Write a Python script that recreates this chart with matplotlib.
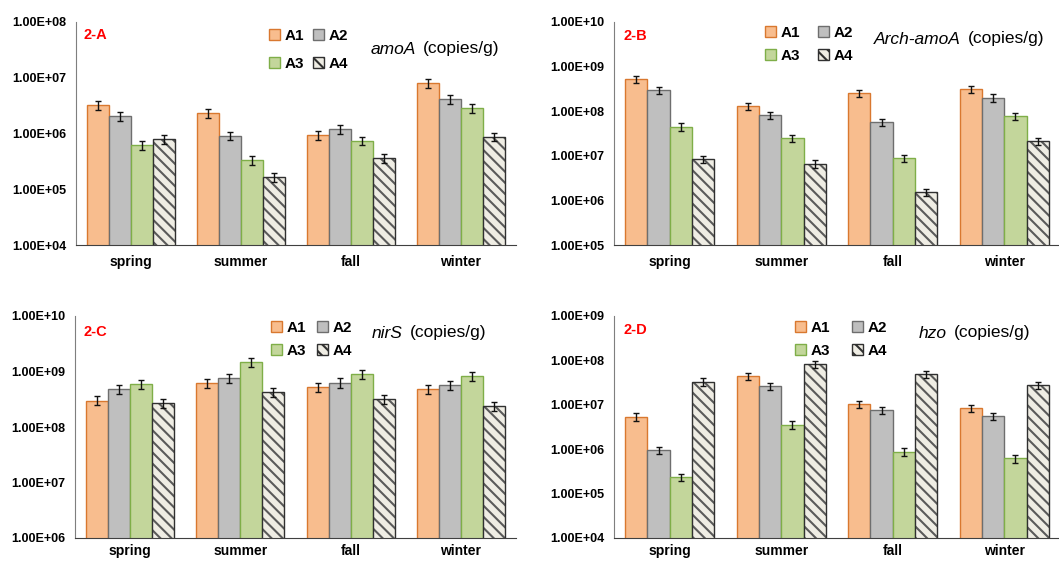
import numpy as np
import matplotlib

matplotlib.use("Agg")
import matplotlib.pyplot as plt
from matplotlib.patches import Patch
from matplotlib.ticker import FuncFormatter, LogLocator

plt.rcParams["font.family"] = ["Liberation Sans", "DejaVu Sans"]
plt.rcParams["hatch.linewidth"] = 1.5

seasons = ["spring", "summer", "fall", "winter"]
sites = ["A1", "A2", "A3", "A4"]

# 2-A amoA
amoA = [
    [3.2e6, 2.3e6, 9.5e5, 8.0e6],
    [2.07e6, 9.1e5, 1.2e6, 4.2e6],
    [6.1e5, 3.37e5, 7.4e5, 2.85e6],
    [7.9e5, 1.67e5, 3.6e5, 8.7e5],
]
amoA_err = [
    [5.5e5, 4.0e5, 1.7e5, 1.4e6],
    [3.6e5, 1.6e5, 2.1e5, 7.5e5],
    [1.1e5, 6.0e4, 1.3e5, 5.0e5],
    [1.4e5, 3.0e4, 6.5e4, 1.5e5],
]
# 2-B Arch-amoA
arch = [
    [5.3e8, 1.28e8, 2.55e8, 3.08e8],
    [2.97e8, 8.2e7, 5.7e7, 2.0e8],
    [4.5e7, 2.48e7, 8.8e6, 7.7e7],
    [8.4e6, 6.7e6, 1.52e6, 2.13e7],
]
arch_err = [
    [1.0e8, 2.4e7, 4.8e7, 5.8e7],
    [5.6e7, 1.6e7, 1.1e7, 3.8e7],
    [8.5e6, 4.7e6, 1.7e6, 1.5e7],
    [1.6e6, 1.3e6, 2.9e5, 4.0e6],
]
# 2-C nirS
nirS = [
    [3.0e8, 6.1e8, 5.3e8, 4.8e8],
    [4.8e8, 7.7e8, 6.3e8, 5.75e8],
    [6.0e8, 1.49e9, 9.1e8, 8.2e8],
    [2.74e8, 4.3e8, 3.18e8, 2.38e8],
]
nirS_err = [
    [5.5e7, 1.1e8, 1.0e8, 9.0e7],
    [9.0e7, 1.4e8, 1.2e8, 1.1e8],
    [1.1e8, 2.8e8, 1.7e8, 1.5e8],
    [5.0e7, 8.0e7, 6.0e7, 4.5e7],
]
# 2-D hzo
hzo = [
    [5.4e6, 4.4e7, 1.02e7, 8.4e6],
    [9.6e5, 2.6e7, 7.5e6, 5.6e6],
    [2.34e5, 3.6e6, 8.8e5, 6.2e5],
    [3.3e7, 8.2e7, 4.9e7, 2.8e7],
]
hzo_err = [
    [1.0e6, 8.3e6, 1.9e6, 1.6e6],
    [1.8e5, 4.9e6, 1.4e6, 1.1e6],
    [4.4e4, 6.8e5, 1.7e5, 1.2e5],
    [6.2e6, 1.5e7, 9.3e6, 5.3e6],
]

fills = ["#F8BD8E", "#BFBFBF", "#C3D69B", "#EFEDE4"]
edges = ["#D9782F", "#6E6E6E", "#7FAE48", "#303030"]
hatches = [None, None, None, "\\\\\\"]
hatch_grey = "#5A5A5A"

W, H = 1059, 562


def box(left, top, right, bottom):
    return [left / W, 1 - bottom / H, (right - left) / W, (bottom - top) / H]


def fig_xy(x, y):
    return x / W, 1 - y / H


panels = [
    dict(data=amoA, err=amoA_err, rect=box(76, 22, 516, 245), ylim=(1e4, 1e8),
         tag="2-A", tag_xy=(83, 35), gene="amoA", gene_xy=(371, 49),
         leg_xy=(269, 29), colsp=0.6, labsp=0.9, xpad=7),
    dict(data=arch, err=arch_err, rect=box(614, 22, 1060, 245), ylim=(1e5, 1e10),
         tag="2-B", tag_xy=(624, 36), gene="Arch-amoA", gene_xy=(874, 39),
         leg_xy=(765, 26), colsp=1.2, labsp=0.58, xpad=7),
    dict(data=nirS, err=nirS_err, rect=box(75, 316, 516, 538), ylim=(1e6, 1e10),
         tag="2-C", tag_xy=(84, 332), gene="nirS", gene_xy=(372, 333),
         leg_xy=(271, 321), colsp=0.75, labsp=0.58, xpad=4.5),
    dict(data=hzo, err=hzo_err, rect=box(614, 316, 1060, 538), ylim=(1e4, 1e9),
         tag="2-D", tag_xy=(623, 330), gene="hzo", gene_xy=(919, 333),
         leg_xy=(795, 321), colsp=1.45, labsp=0.58, xpad=4.5),
]

fig = plt.figure(figsize=(W / 100, H / 100), dpi=100)
x = np.arange(len(seasons))
width = 0.2
err_style = dict(ecolor="#111111", elinewidth=1.0, capsize=2.5, capthick=1.0)

for p in panels:
    ax = fig.add_axes(p["rect"])
    handles = []
    for i, site in enumerate(sites):
        pos = x + (i - 1.5) * width
        if hatches[i]:
            # hatch in a softer grey, outline drawn on top in dark grey
            ax.bar(pos, p["data"][i], width, color=fills[i],
                   edgecolor=hatch_grey, linewidth=0, hatch=hatches[i])
            ax.bar(pos, p["data"][i], width, yerr=p["err"][i], fill=False,
                   edgecolor=edges[i], linewidth=1.0, error_kw=err_style)
        else:
            ax.bar(pos, p["data"][i], width, yerr=p["err"][i],
                   color=fills[i], edgecolor=edges[i], linewidth=1.0,
                   error_kw=err_style)
        handles.append(Patch(facecolor=fills[i], edgecolor=edges[i],
                             linewidth=1.0, hatch=hatches[i]))
    ax.set_yscale("log")
    ax.set_ylim(*p["ylim"])
    ax.set_xlim(-0.5, 3.5)
    ax.yaxis.set_major_locator(LogLocator(base=10, numticks=20))
    ax.yaxis.set_minor_locator(LogLocator(base=10, subs=[], numticks=20))
    ax.yaxis.set_major_formatter(FuncFormatter(lambda v, pos: f"{v:.2E}"))
    ax.set_xticks(x)
    ax.set_xticklabels(seasons)
    ax.tick_params(axis="y", length=0, labelsize=9, pad=7)
    ax.tick_params(axis="x", length=0, labelsize=10, pad=p["xpad"])
    for lab in ax.get_xticklabels() + ax.get_yticklabels():
        lab.set_fontweight("bold")
    for s in ["top", "right"]:
        ax.spines[s].set_visible(False)
    ax.spines["left"].set_color("#7F7F7F")
    ax.spines["bottom"].set_color("#404040")
    ax.patch.set_alpha(0)

    # row-wise legend: A1 A2 / A3 A4
    order = [0, 2, 1, 3]
    ax.legend([handles[k] for k in order], [sites[k] for k in order],
              ncol=2, loc="upper left",
              bbox_to_anchor=fig_xy(*p["leg_xy"]),
              bbox_transform=fig.transFigure, frameon=False,
              prop=dict(weight="bold", size=11), handlelength=0.7,
              handleheight=0.7, handletextpad=0.3, borderpad=0,
              borderaxespad=0, columnspacing=p["colsp"],
              labelspacing=p["labsp"])

    fig.text(*fig_xy(*p["tag_xy"]), p["tag"], color="#FF0000",
             fontsize=10.5, fontweight="bold", va="center", ha="left")
    gx, gy = fig_xy(*p["gene_xy"])
    t = fig.text(gx, gy, p["gene"], fontsize=12.5, style="italic",
                 va="center", ha="left")
    fig.canvas.draw()
    bb = t.get_window_extent()
    fig.text(bb.x1 / W + 7 / W, gy, "(copies/g)", fontsize=12.5,
             va="center", ha="left")

fig.savefig("out.png", dpi=100)
